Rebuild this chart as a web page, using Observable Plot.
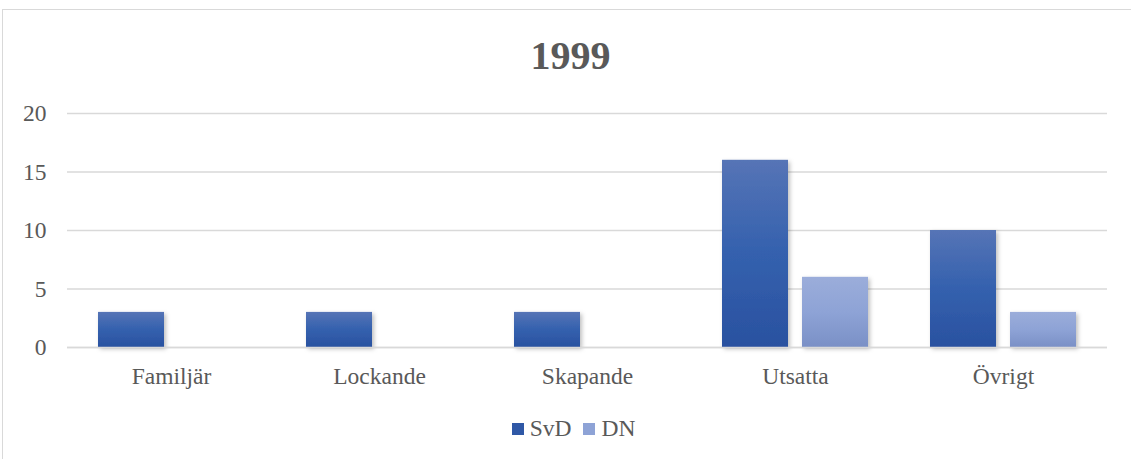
<!DOCTYPE html>
<html>
<head>
<meta charset="utf-8">
<script src="https://cdn.jsdelivr.net/npm/d3@7"></script>
<script src="https://cdn.jsdelivr.net/npm/@observablehq/plot@0.6"></script>
<style>
  html, body { margin: 0; padding: 0; background: #fff; }
  body { width: 1131px; height: 459px; overflow: hidden; position: relative; font-family: "Liberation Serif", "Times New Roman", serif; color: #595959; }
  #frame { position: absolute; left: 2px; top: 9px; width: 1200px; height: 600px; border-top: 1.5px solid #d9d9d9; border-left: 1.5px solid #d9d9d9; }
  #title { position: absolute; left: 5px; width: 1131px; top: 36px; text-align: center; font-size: 40px; font-weight: bold; line-height: 40px; font-family: "Liberation Serif", serif; }
  #chart { position: absolute; left: 0; top: 90px; }
  #legend { position: absolute; left: 8px; width: 1131px; top: 414px; text-align: center; font-size: 23.5px; line-height: 28px; font-family: "Liberation Serif", serif; }
  .item { display: inline-block; margin: 0 6px; }
  .sw { display: inline-block; width: 12px; height: 12px; margin-right: 6px; vertical-align: 1px; }
</style>
</head>
<body>
<svg width="0" height="0" style="position:absolute">
  <defs>
    <linearGradient id="gSvD" x1="0" y1="0" x2="0" y2="1">
      <stop offset="0" stop-color="#5674b6"/>
      <stop offset="0.5" stop-color="#3461ae"/>
      <stop offset="1" stop-color="#2a51a0"/>
    </linearGradient>
    <linearGradient id="gDN" x1="0" y1="0" x2="0" y2="1">
      <stop offset="0" stop-color="#9badda"/>
      <stop offset="0.5" stop-color="#8ea3d6"/>
      <stop offset="1" stop-color="#7a90c6"/>
    </linearGradient>
    <filter id="shadow" x="-20%" y="-20%" width="150%" height="150%">
      <feDropShadow dx="2" dy="2" stdDeviation="2" flood-color="#000" flood-opacity="0.25"/>
    </filter>
  </defs>
</svg>
<div id="frame"></div>
<div id="title">1999</div>
<div id="chart"></div>
<div id="legend"></div>
<script>
const categories = ["Familjär", "Lockande", "Skapande", "Utsatta", "Övrigt"];
const series = ["SvD", "DN"];
const svdValues = [3, 3, 3, 16, 10];
const dnValues = [0, 0, 0, 6, 3];
const yTicks = [0, 5, 10, 15, 20];
const seriesFills = ["url(#gSvD)", "url(#gDN)"];
const legendColors = ["#2f58a6", "#8ea3d6"];

const data = [];
categories.forEach((c, i) => {
  data.push({category: c, series: "SvD", value: svdValues[i]});
  data.push({category: c, series: "DN", value: dnValues[i]});
});

const chart = Plot.plot({
  width: 1131,
  height: 310,
  marginTop: 23,
  marginBottom: 53,
  marginLeft: 66,
  marginRight: 23,
  style: {fontFamily: "'Liberation Serif', 'Times New Roman', serif", fontSize: "23.5px", color: "#595959", background: "transparent"},
  fx: {domain: categories, padding: 0, label: null, axis: "bottom", tickSize: 0, tickPadding: 20},
  x: {domain: series, paddingInner: 0.17, paddingOuter: 0.37, axis: null},
  y: {domain: [0, 20], ticks: yTicks, tickSize: 0, tickPadding: 21, label: null},
  color: {domain: series, range: seriesFills},
  marks: [
    Plot.ruleY(yTicks, {stroke: "#d9d9d9", strokeWidth: 1.5}),
    Plot.barY(data, {fx: "category", x: "series", y: "value", fill: "series", filter: d => d.value > 0}),
    Plot.ruleY([0], {stroke: "#d9d9d9", strokeWidth: 1.5})
  ]
});
chart.querySelectorAll("rect").forEach(r => r.setAttribute("filter", "url(#shadow)"));
document.getElementById("chart").appendChild(chart);

const legend = document.getElementById("legend");
series.forEach((s, i) => {
  const item = document.createElement("span");
  item.className = "item";
  const sw = document.createElement("span");
  sw.className = "sw";
  sw.style.background = legendColors[i];
  item.appendChild(sw);
  item.appendChild(document.createTextNode(s));
  legend.appendChild(item);
});
</script>
</body>
</html>
